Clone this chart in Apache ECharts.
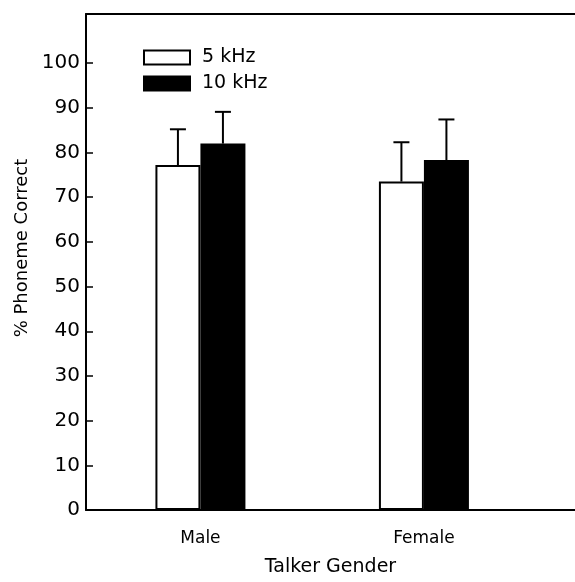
<!DOCTYPE html>
<html>
<head>
<meta charset="utf-8">
<script src="https://cdn.jsdelivr.net/npm/echarts@6/dist/echarts.min.js"></script>
<style>
html,body{margin:0;padding:0;background:#fff;}
#c{width:575px;height:582px;}
</style>
</head>
<body>
<div id="c"></div>
<script>
// Data
const categories = ['Male', 'Female'];
const seriesNames = ['5 kHz', '10 kHz'];
const means5k = [77.2, 73.5];
const errs5k = [8.0, 8.8];
const means10k = [82.0, 78.3];
const errs10k = [7.1, 9.1];
const yTicks = [0, 10, 20, 30, 40, 50, 60, 70, 80, 90, 100];

const FONT = '"DejaVu Sans", sans-serif';
const BAR_W = 45;
const CAP_HALF = 8;

const chart = echarts.init(document.getElementById('c'), null, {renderer: 'canvas'});

function barData(means) {
  return means.map((v, i) => [i, v]);
}
function errData(means, errs) {
  return means.map((v, i) => [i, v, v + errs[i]]);
}
function errSeries(name, means, errs, side) {
  return {
    type: 'custom',
    name: name + ' err',
    xAxisIndex: 0,
    yAxisIndex: 0,
    silent: true,
    z: 5,
    encode: {x: 0, y: [1, 2]},
    data: errData(means, errs),
    renderItem: function (params, api) {
      const c0 = api.coord([api.value(0), api.value(1)]);
      const c1 = api.coord([api.value(0), api.value(2)]);
      const x = c0[0] + side * BAR_W / 2;
      const st = {stroke: '#000', lineWidth: 2};
      return {
        type: 'group',
        children: [
          {type: 'line', shape: {x1: x, y1: c0[1], x2: x, y2: c1[1]}, style: st},
          {type: 'line', shape: {x1: x - CAP_HALF, y1: c1[1], x2: x + CAP_HALF, y2: c1[1]}, style: st}
        ]
      };
    }
  };
}

const option = {
  animation: false,
  backgroundColor: '#fff',
  grid: {left: 86, right: 0, top: 14, bottom: 70, containLabel: false},
  legend: {
    orient: 'vertical',
    left: 143,
    top: 48,
    padding: 0,
    itemWidth: 46,
    itemHeight: 14,
    itemGap: 7,
    icon: 'rect',
    data: seriesNames,
    textStyle: {fontFamily: FONT, fontSize: 19, color: '#000', padding: [0, 0, 0, 7]}
  },
  xAxis: [
    {
      type: 'value',
      min: -0.512,
      max: 1.676,
      position: 'bottom',
      name: 'Talker Gender',
      nameLocation: 'middle',
      nameGap: 48,
      nameTextStyle: {fontFamily: FONT, fontSize: 19, color: '#000'},
      axisLine: {show: true, onZero: false, lineStyle: {color: '#000', width: 2}},
      axisTick: {show: false},
      splitLine: {show: false},
      axisLabel: {
        customValues: [0, 1],
        formatter: function (v) { return categories[Math.round(v)] || ''; },
        fontFamily: FONT, fontSize: 17, color: '#000', margin: 20
      }
    },
    {
      type: 'value',
      min: -0.512,
      max: 1.676,
      position: 'top',
      axisLine: {show: true, onZero: false, lineStyle: {color: '#000', width: 2}},
      axisTick: {show: false},
      axisLabel: {show: false},
      splitLine: {show: false}
    }
  ],
  yAxis: {
    type: 'value',
    min: 0,
    max: 111,
    interval: 10,
    name: '% Phoneme Correct',
    nameLocation: 'middle',
    nameGap: 55,
    nameTextStyle: {fontFamily: FONT, fontSize: 18, color: '#000', padding: [0, 0, 0, 28]},
    axisLine: {show: true, onZero: false, lineStyle: {color: '#000', width: 2}},
    axisTick: {show: true, inside: true, length: 7, customValues: yTicks, lineStyle: {color: '#000', width: 1.5}},
    axisLabel: {customValues: yTicks, fontFamily: FONT, fontSize: 20, color: '#000', margin: 6},
    splitLine: {show: false}
  },
  series: [
    {
      type: 'bar',
      name: seriesNames[0],
      xAxisIndex: 0,
      barWidth: BAR_W,
      barGap: '0%',
      itemStyle: {color: '#fff', borderColor: '#000', borderWidth: 2},
      data: barData(means5k)
    },
    {
      type: 'bar',
      name: seriesNames[1],
      xAxisIndex: 0,
      barWidth: BAR_W,
      barGap: '0%',
      itemStyle: {color: '#000', borderColor: '#000', borderWidth: 2},
      data: barData(means10k)
    },
    errSeries(seriesNames[0], means5k, errs5k, -1),
    errSeries(seriesNames[1], means10k, errs10k, 1)
  ]
};
chart.setOption(option);
</script>
</body>
</html>
